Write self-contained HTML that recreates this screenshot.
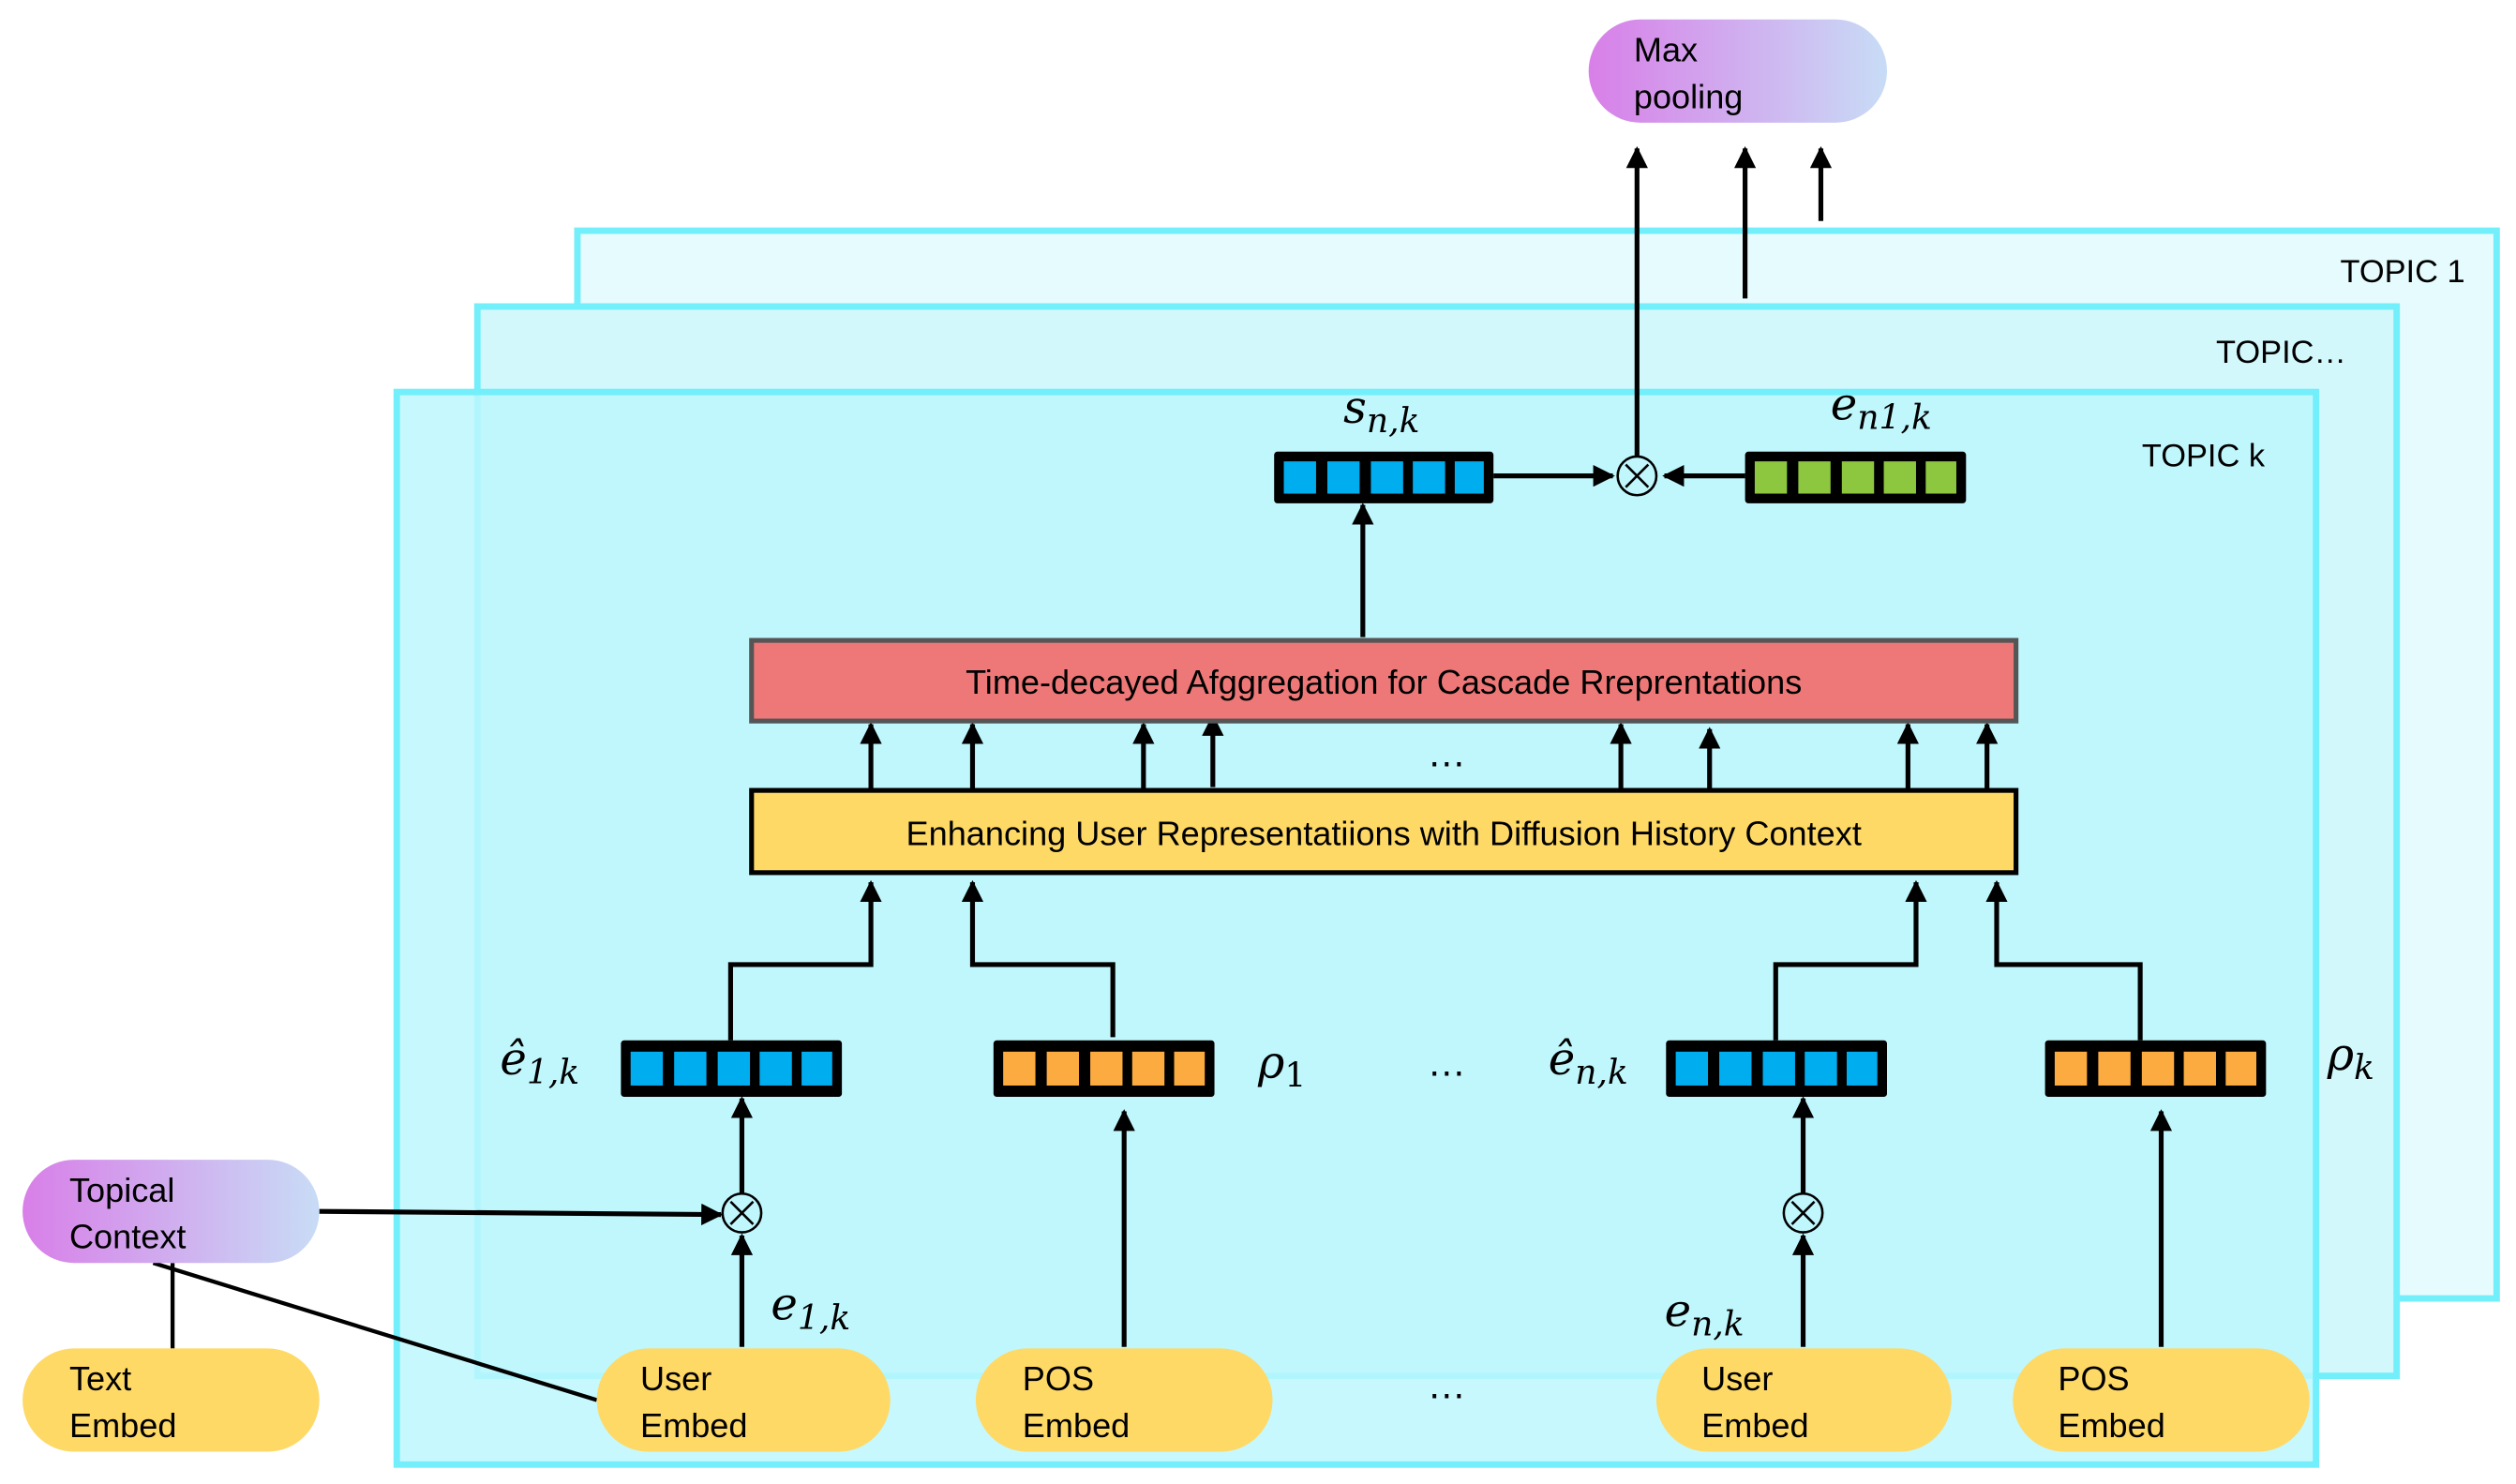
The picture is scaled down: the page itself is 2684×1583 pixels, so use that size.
<!DOCTYPE html>
<html><head><meta charset="utf-8"><style>html,body{margin:0;padding:0;background:#fff}svg{display:block}</style></head>
<body>
<svg width="2684" height="1583" viewBox="0 0 1560 920" xmlns="http://www.w3.org/2000/svg" font-family="Liberation Sans, sans-serif">
<defs>
<linearGradient id="pg" x1="0" x2="1" y1="0" y2="0"><stop offset="0" stop-color="#d87fe8"/><stop offset="1" stop-color="#c8dcf6"/></linearGradient>
<marker id="ar" viewBox="0 0 10 10" refX="9" refY="5" markerWidth="4.5" markerHeight="4.5" orient="auto-start-reverse"><path d="M0,0L10,5L0,10z" fill="#000"/></marker>
</defs>
<rect width="1560" height="920" fill="#fff"/>
<rect x="358" y="143" width="1190" height="662" fill="#e6fbfd" stroke="#72effb" stroke-width="4"/>
<rect x="296" y="190" width="1190" height="663" fill="#d2f8fc" stroke="#72effb" stroke-width="4"/>
<rect x="246" y="243" width="1190" height="665" fill="#bdf7fd" fill-opacity="0.85" stroke="#72effb" stroke-width="4"/>
<g font-size="20" fill="#000">
<text x="1451" y="175">TOPIC 1</text><text x="1374" y="225">TOPIC…</text><text x="1328" y="289">TOPIC k</text>
</g>
<rect x="985" y="12" width="185" height="64" rx="32" fill="url(#pg)"/>
<text x="1013" y="38" font-size="21">Max</text><text x="1013" y="67" font-size="21">pooling</text>
<g stroke="#000" stroke-width="3" fill="none" marker-end="url(#ar)">
<line x1="1015" y1="283" x2="1015" y2="92"/><line x1="1082" y1="185" x2="1082" y2="92"/><line x1="1129" y1="137" x2="1129" y2="92"/>
<line x1="926" y1="295" x2="1000" y2="295"/><line x1="1082" y1="295" x2="1032" y2="295"/>
<line x1="845" y1="395" x2="845" y2="313"/>
<line x1="540" y1="490" x2="540" y2="449"/><line x1="603" y1="490" x2="603" y2="449"/><line x1="709" y1="490" x2="709" y2="449"/><line x1="752" y1="488" x2="752" y2="444"/>
<line x1="1005" y1="490" x2="1005" y2="449"/><line x1="1060" y1="490" x2="1060" y2="452"/><line x1="1183" y1="490" x2="1183" y2="449"/><line x1="1232" y1="490" x2="1232" y2="449"/>
<polyline points="453,645 453,598 540,598 540,547"/><polyline points="690,643 690,598 603,598 603,547"/>
<polyline points="1101,645 1101,598 1188,598 1188,547"/><polyline points="1327,645 1327,598 1238,598 1238,547"/>
<line x1="460" y1="740" x2="460" y2="681"/><line x1="1118" y1="740" x2="1118" y2="681"/>
<line x1="697" y1="835" x2="697" y2="689"/><line x1="1340" y1="835" x2="1340" y2="689"/>
<line x1="460" y1="835" x2="460" y2="766"/><line x1="1118" y1="835" x2="1118" y2="766"/>
<line x1="198" y1="751" x2="447" y2="753"/>
</g>
<g stroke="#000" stroke-width="2.5"><line x1="107" y1="783" x2="107" y2="836"/><line x1="95" y1="783" x2="370" y2="868"/></g>
<g fill="none" stroke="#000" stroke-width="1.5">
<circle cx="1015" cy="295" r="12"/><path d="M1008,288l14,14M1022,288l-14,14"/>
<circle cx="460" cy="752" r="12"/><path d="M453,745l14,14M467,745l-14,14"/>
<circle cx="1118" cy="752" r="12"/><path d="M1111,745l14,14M1125,745l-14,14"/>
</g>
<rect x="466" y="397" width="784" height="50" fill="#ee7878" stroke="#555" stroke-width="3"/>
<text x="858" y="430" font-size="21" text-anchor="middle">Time-decayed Afggregation for Cascade Rreprentations</text>
<rect x="466" y="490" width="784" height="51" fill="#fed966" stroke="#000" stroke-width="3"/>
<text x="858" y="524" font-size="21" text-anchor="middle">Enhancing User Representatiions with Diffusion History Context</text>
<g font-size="24" text-anchor="middle"><text x="897" y="475">…</text><text x="897" y="667">…</text><text x="897" y="867">…</text></g>
<g>
<g transform="translate(790,280)"><rect width="136" height="32" fill="#000" rx="2"/><g fill="#00adef"><rect x="6" y="6" width="20" height="20"/><rect x="33" y="6" width="20" height="20"/><rect x="60" y="6" width="20" height="20"/><rect x="86" y="6" width="20" height="20"/><rect x="112" y="6" width="18" height="20"/></g></g>
<g transform="translate(1082,280)"><rect width="137" height="32" fill="#000" rx="2"/><g fill="#8dc63f"><rect x="6" y="6" width="20" height="20"/><rect x="33" y="6" width="20" height="20"/><rect x="60" y="6" width="20" height="20"/><rect x="86" y="6" width="20" height="20"/><rect x="112" y="6" width="19" height="20"/></g></g>
<g transform="translate(385,645)"><rect width="137" height="35" fill="#000" rx="2"/><g fill="#00adef"><rect x="6" y="7" width="20" height="21"/><rect x="33" y="7" width="20" height="21"/><rect x="60" y="7" width="20" height="21"/><rect x="86" y="7" width="20" height="21"/><rect x="112" y="7" width="19" height="21"/></g></g>
<g transform="translate(616,645)"><rect width="137" height="35" fill="#000" rx="2"/><g fill="#fbab40"><rect x="6" y="7" width="20" height="21"/><rect x="33" y="7" width="20" height="21"/><rect x="60" y="7" width="20" height="21"/><rect x="86" y="7" width="20" height="21"/><rect x="112" y="7" width="19" height="21"/></g></g>
<g transform="translate(1033,645)"><rect width="137" height="35" fill="#000" rx="2"/><g fill="#00adef"><rect x="6" y="7" width="20" height="21"/><rect x="33" y="7" width="20" height="21"/><rect x="60" y="7" width="20" height="21"/><rect x="86" y="7" width="20" height="21"/><rect x="112" y="7" width="19" height="21"/></g></g>
<g transform="translate(1268,645)"><rect width="137" height="35" fill="#000" rx="2"/><g fill="#fbab40"><rect x="6" y="7" width="20" height="21"/><rect x="33" y="7" width="20" height="21"/><rect x="60" y="7" width="20" height="21"/><rect x="86" y="7" width="20" height="21"/><rect x="112" y="7" width="19" height="21"/></g></g>
</g>
<g font-family="DejaVu Serif, Liberation Serif, serif" font-style="italic" font-size="28">
<text x="833" y="262">s<tspan font-size="21" dy="6">n,k</tspan></text>
<text x="1135" y="260">e<tspan font-size="21" dy="6">n1,k</tspan></text>
<text x="310" y="666">ê<tspan font-size="21" dy="6">1,k</tspan></text>
<text x="780" y="668">ρ<tspan font-size="21" dy="6" font-style="normal">1</tspan></text>
<text x="960" y="666">ê<tspan font-size="21" dy="6">n,k</tspan></text>
<text x="1443" y="663">ρ<tspan font-size="21" dy="6">k</tspan></text>
<text x="478" y="818">e<tspan font-size="21" dy="6">1,k</tspan></text>
<text x="1032" y="822">e<tspan font-size="21" dy="6">n,k</tspan></text>
</g>
<rect x="14" y="719" width="184" height="64" rx="32" fill="url(#pg)"/>
<text x="43" y="745" font-size="21">Topical</text><text x="43" y="774" font-size="21">Context</text>
<g fill="#fed966">
<rect x="14" y="836" width="184" height="64" rx="32"/><rect x="370" y="836" width="182" height="64" rx="32"/><rect x="605" y="836" width="184" height="64" rx="32"/><rect x="1027" y="836" width="183" height="64" rx="32"/><rect x="1248" y="836" width="184" height="64" rx="32"/>
</g>
<g font-size="21">
<text x="43" y="862">Text</text><text x="43" y="891">Embed</text>
<text x="397" y="862">User</text><text x="397" y="891">Embed</text>
<text x="634" y="862">POS</text><text x="634" y="891">Embed</text>
<text x="1055" y="862">User</text><text x="1055" y="891">Embed</text>
<text x="1276" y="862">POS</text><text x="1276" y="891">Embed</text>
</g>
</svg>
</body></html>
